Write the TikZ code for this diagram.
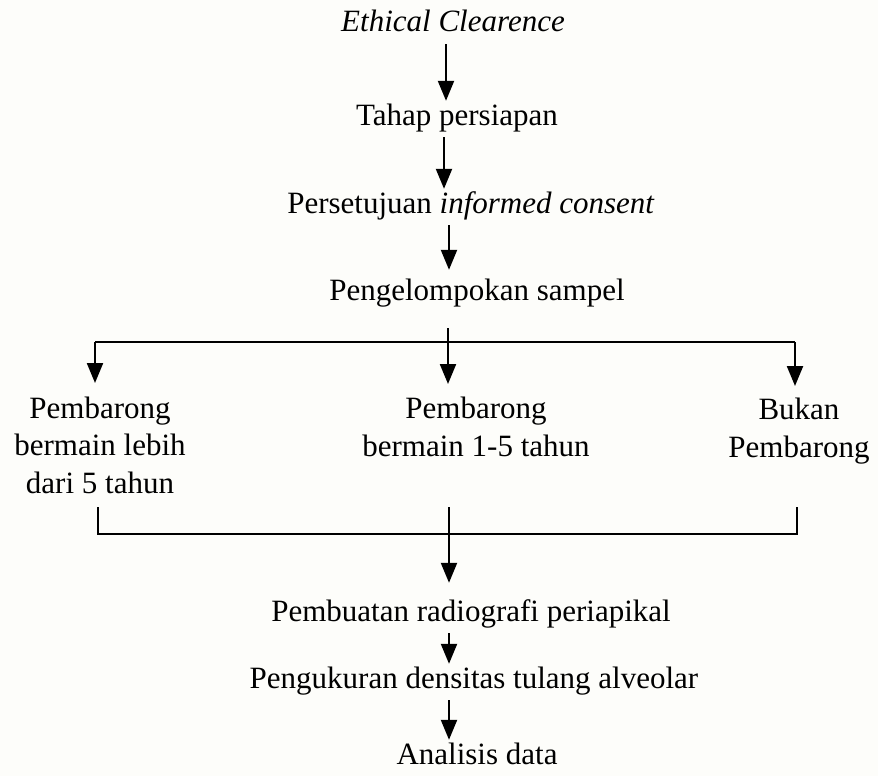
\documentclass[tikz,border=0pt]{standalone}
\usepackage{fontspec}
\setmainfont{Liberation Serif}
\usetikzlibrary{arrows.meta}
\definecolor{bgc}{RGB}{253,253,250}
\begin{document}
\begin{tikzpicture}[x=1pt,y=-1pt,
  lbl/.style={inner xsep=0pt, inner ysep=2pt, text height=22pt, text depth=10pt, anchor=base, font=\fontsize{31}{37.5}\selectfont},
  grp/.style={inner xsep=0pt, inner ysep=2pt, anchor=base, align=center, font=\fontsize{31}{37.5}\selectfont},
  arr/.style={line width=2.2pt, -{Triangle[width=16pt,length=20pt]}},
  ln/.style={line width=2.2pt}]
\fill[bgc] (0,0) rectangle (878,776);
\useasboundingbox (0,0) rectangle (878,776);

\node[lbl] (ec) at (453,32) {\textit{Ethical Clearence}};
\node[lbl] (tp) at (457,125) {Tahap persiapan};
\node[lbl] (pic) at (471,213) {Persetujuan \textit{informed consent}};
\node[lbl] (pk) at (477,300) {Pengelompokan sampel};
\node[grp] (g1) at (100,493) {Pembarong\\bermain lebih\\dari 5 tahun};
\node[grp] (g2) at (476,456) {Pembarong\\bermain 1-5 tahun};
\node[grp] (g3) at (799,457) {Bukan\\Pembarong};
\node[lbl] (pr) at (471,621) {Pembuatan radiografi periapikal};
\node[lbl] (pd) at (474,688) {Pengukuran densitas tulang alveolar};
\node[lbl] (ad) at (477,764) {Analisis data};

\draw[arr] (ec.south -| 446,0) -- (tp.north -| 446,0);
\draw[arr] (tp.south -| 444,0) -- (pic.north -| 444,0);
\draw[arr, shorten >=6pt] (pic.south -| 449,0) -- (pk.north -| 449,0);

\coordinate (hl) at (95,342);
\coordinate (hr) at (795,342);
\draw[ln] (hl) -- (hr);
\draw[arr, shorten <=16pt] (pk.south -| 448,0) -- (448,384);
\draw[arr] (hl) -- (95,383);
\draw[arr] (hr) -- (795,386);

\coordinate (bl0) at (98,507);
\coordinate (bl) at (98,534);
\coordinate (br) at (797,534);
\coordinate (br0) at (797,507);
\coordinate (mid0) at (449,507);
\draw[ln] (bl0) -- (bl) -- (br) -- (br0);
\draw[arr, shorten >=14pt] (mid0) -- (pr.north -| mid0);
\draw[arr] (pr.south -| 449,0) -- (pd.north -| 449,0);
\draw[arr] (pd.south -| 449,0) -- (ad.north -| 449,0);
\end{tikzpicture}
\end{document}
